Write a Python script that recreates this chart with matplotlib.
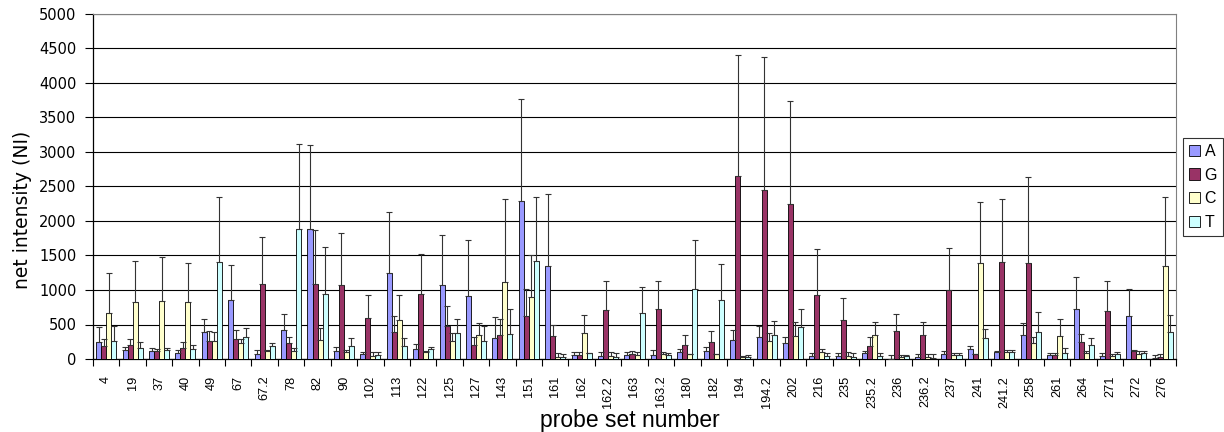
import numpy as np
import matplotlib
matplotlib.use('Agg')
import matplotlib.pyplot as plt
from matplotlib.patches import Patch

plt.rcParams['font.family'] = ['Liberation Sans', 'DejaVu Sans']

probes = ['4', '19', '37', '40', '49', '67', '67.2', '78', '82', '90',
          '102', '113', '122', '125', '127', '143', '151', '161', '162', '162.2',
          '163', '163.2', '180', '182', '194', '194.2', '202', '216', '235', '235.2',
          '236', '236.2', '237', '241', '241.2', '258', '261', '264', '271', '272', '276']

# mean net intensity per base
val_A = [242, 130, 116, 82, 386, 850, 72, 420, 1879, 116,
         68, 1241, 150, 1072, 913, 304, 2285, 1348, 53, 39,
         53, 58, 102, 121, 271, 315, 228, 39, 44, 92,
         5, 29, 68, 140, 107, 344, 53, 723, 44, 626, 10]
val_G = [190, 198, 116, 155, 260, 290, 1087, 232, 1087, 1072,
         590, 391, 937, 473, 198, 343, 623, 328, 53, 710,
         68, 718, 203, 252, 2658, 2444, 2250, 922, 558, 189,
         412, 349, 1004, 72, 1407, 1387, 53, 247, 689, 116, 24]
val_C = [667, 820, 845, 820, 260, 227, 116, 116, 270, 97,
         48, 565, 97, 256, 343, 1120, 893, 34, 381, 39,
         63, 72, 77, 77, 29, 257, 335, 97, 48, 344,
         34, 24, 53, 1397, 107, 228, 329, 87, 39, 72, 1344]
val_T = [265, 155, 135, 150, 1400, 324, 184, 1879, 937, 188,
         53, 188, 140, 372, 265, 357, 1425, 29, 82, 34,
         664, 58, 1013, 853, 24, 344, 461, 44, 29, 48,
         39, 15, 53, 300, 102, 392, 92, 203, 72, 87, 388]

# top of the error bar (mean + sd)
top_A = [470, 180, 165, 130, 575, 1357, 125, 657, 3096, 180,
         100, 2130, 212, 1792, 1724, 609, 3772, 2390, 97, 97,
         97, 126, 140, 179, 422, 480, 325, 82, 82, 121,
         58, 68, 116, 194, 121, 519, 82, 1188, 82, 1013, 58]
top_G = [285, 285, 150, 240, 400, 415, 1773, 324, 1870, 1820,
         922, 628, 1516, 768, 314, 575, 1009, 497, 97, 1130,
         121, 1125, 344, 407, 4409, 4375, 3735, 1600, 883, 315,
         655, 529, 1610, 72, 2323, 2643, 82, 359, 1135, 131, 68]
top_C = [1250, 1415, 1478, 1386, 386, 290, 135, 155, 444, 135,
         97, 922, 116, 381, 526, 2313, 1502, 82, 633, 97,
         107, 107, 77, 77, 48, 383, 529, 150, 107, 529,
         63, 68, 82, 2280, 131, 315, 582, 121, 68, 116, 2353]
top_T = [478, 240, 165, 198, 2343, 444, 227, 3110, 1628, 310,
         100, 310, 180, 575, 478, 729, 2352, 68, 82, 82,
         1043, 92, 1720, 1377, 58, 553, 728, 82, 82, 82,
         63, 68, 82, 432, 131, 679, 155, 310, 102, 116, 631]

series = [('A', val_A, top_A, '#9999FF'),
          ('G', val_G, top_G, '#993366'),
          ('C', val_C, top_C, '#FFFFCC'),
          ('T', val_T, top_T, '#CCFFFF')]

W, H = 1224, 432
fig = plt.figure(figsize=(W / 100, H / 100), dpi=100)
ax = fig.add_axes([93 / W, 1 - 359 / H, (1176 - 93) / W, (359 - 14) / H])

x = np.arange(len(probes))
w = 0.19
for k, (name, vals, tops, col) in enumerate(series):
    vals = np.array(vals)
    err = np.array(tops) - vals
    ax.bar(x + (k - 1.5) * w, vals, w, color=col, edgecolor='black', linewidth=0.6,
           yerr=[np.zeros_like(err), err], zorder=3,
           error_kw=dict(ecolor='#333333', elinewidth=0.8, capsize=2, capthick=0.8))

ax.set_xlim(-0.5, len(probes) - 0.5)
ax.set_ylim(0, 5000)
ax.set_yticks(np.arange(0, 5001, 500))
ax.yaxis.grid(True, color='black', linewidth=0.8, zorder=0)
ax.set_axisbelow(True)

ax.set_xticks(x)
ax.set_xticklabels(probes, rotation=90, fontsize=9.2)
ax.set_xticks(np.arange(-0.5, len(probes), 1), minor=True)
ax.tick_params(axis='x', which='major', length=0, pad=12)
ax.tick_params(axis='x', which='minor', length=5, width=0.8, direction='out')
ax.tick_params(axis='y', length=6, width=0.8, pad=6)
for lab in ax.get_yticklabels():
    lab.set_family(['DejaVu Sans'])
    lab.set_fontsize(10.5)

for s in ['top', 'right']:
    ax.spines[s].set_color('#808080')
ax.spines['left'].set_linewidth(0.9)
ax.spines['bottom'].set_linewidth(0.9)

fig.text(23 / W, 1 - 210 / H, 'net intensity (NI)', rotation=90, fontsize=13.5,
         family=['DejaVu Sans'], ha='center', va='center')
fig.text(630 / W, 1 - 427 / H, 'probe set number', fontsize=16.5,
         ha='center', va='baseline')

handles = [Patch(facecolor=c, edgecolor='black', linewidth=0.6, label=n) for n, _, _, c in series]
leg = fig.legend(handles=handles, loc='center left', bbox_to_anchor=(1183 / W, 1 - 187 / H),
                 fontsize=11.5, frameon=True, fancybox=False, edgecolor='black',
                 handlelength=0.7, handleheight=0.7, handletextpad=0.3,
                 borderpad=0.35, labelspacing=0.55, borderaxespad=0)
leg.get_frame().set_linewidth(0.8)

fig.savefig('out.png', dpi=100)
